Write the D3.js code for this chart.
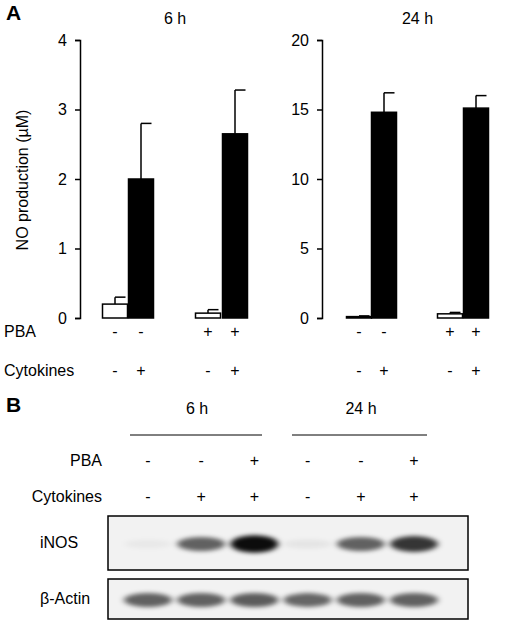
<!DOCTYPE html>
<html><head><meta charset="utf-8">
<script src="https://cdn.jsdelivr.net/npm/d3@7"></script>
<style>body{margin:0;background:#fff}text{font-family:Arial,"Liberation Sans",sans-serif;fill:#000}</style>
</head><body><svg id="c" width="520" height="620"></svg>
<script>
const groups = ["PBA- Cyt-","PBA- Cyt+","PBA+ Cyt-","PBA+ Cyt+"];
const fill6 = ["white","black","white","black"];
const means6h = [0.2, 2.0, 0.07, 2.65];
const err6h = [0.1, 0.8, 0.05, 0.63];
const means24h = [0.1, 14.8, 0.3, 15.1];
const err24h = [0.05, 1.4, 0.1, 0.9];
const ticks6h = [0,1,2,3,4];
const ticks24h = [0,5,10,15,20];
const pbaA = ["-","-","+","+"];
const cytA = ["-","+","-","+"];
const lanesB = ["1","2","3","4","5","6"];
const pbaB = ["-","-","+","-","-","+"];
const cytB = ["-","+","+","-","+","+"];
const inos = [0.04,0.6,0.95,0.06,0.6,0.78];
const actin = [0.6,0.6,0.62,0.58,0.6,0.6];
const FS = 16;
const svg = d3.select("#c");
svg.append("text").attr("x",6).attr("y",20).attr("font-size",21).attr("font-weight","bold").text("A");
svg.append("text").attr("x",6).attr("y",412).attr("font-size",21).attr("font-weight","bold").text("B");

function chart(x0, domMax, ticks, means, errs, title, barX){
  const y = d3.scaleLinear().domain([0,domMax]).range([318,40]);
  const g = svg.append("g");
  g.append("g").attr("transform",`translate(${x0},0)`)
   .call(d3.axisLeft(y).tickValues(ticks).tickSize(5).tickPadding(8).tickFormat(d3.format("d")))
   .call(a=>{a.select(".domain").attr("stroke","#000").attr("stroke-width",1.5);a.selectAll("line").attr("stroke-width",1.5);a.selectAll("text").attr("font-size",FS).attr("font-family","Arial")});
  const x = d3.scaleOrdinal().domain(groups).range(barX);
  const w = 25;
  groups.forEach((k,i)=>{
    const cx = x(k);
    g.append("line").attr("x1",cx).attr("x2",cx).attr("y1",y(means[i])).attr("y2",y(means[i]+errs[i])).attr("stroke","#000").attr("stroke-width",1.5);
    g.append("line").attr("x1",cx).attr("x2",cx+w/2-2).attr("y1",y(means[i]+errs[i])).attr("y2",y(means[i]+errs[i])).attr("stroke","#000").attr("stroke-width",1.5);
    g.append("rect").attr("x",cx-w/2).attr("width",w).attr("y",y(means[i])).attr("height",Math.max(0,y(0)-y(means[i])))
     .attr("fill",fill6[i]).attr("stroke","#000").attr("stroke-width",1.5);
  });
  g.append("text").attr("x",(barX[0]+barX[3])/2).attr("y",24).attr("text-anchor","middle").attr("font-size",FS).text(title);
  groups.forEach((k,i)=>{
    g.append("text").attr("x",x(k)).attr("y",337).attr("text-anchor","middle").attr("font-size",FS).text(pbaA[i]);
    g.append("text").attr("x",x(k)).attr("y",376).attr("text-anchor","middle").attr("font-size",FS).text(cytA[i]);
  });
}
chart(80,4,ticks6h,means6h,err6h,"6 h",[115,141,208,235]);
chart(322,20,ticks24h,means24h,err24h,"24 h",[359,384,450,476]);
svg.append("text").attr("x",28).attr("y",180).attr("transform","rotate(-90,28,180)").attr("text-anchor","middle").attr("font-size",FS).text("NO production (µM)");
svg.append("text").attr("x",4).attr("y",337).attr("font-size",FS).text("PBA");
svg.append("text").attr("x",4).attr("y",376).attr("font-size",FS).text("Cytokines");

svg.append("text").attr("x",197).attr("y",414).attr("text-anchor","middle").attr("font-size",FS).text("6 h");
svg.append("text").attr("x",361).attr("y",414).attr("text-anchor","middle").attr("font-size",FS).text("24 h");
svg.append("line").attr("x1",130).attr("x2",262).attr("y1",435).attr("y2",435).attr("stroke","#000");
svg.append("line").attr("x1",292).attr("x2",427).attr("y1",435).attr("y2",435).attr("stroke","#000");
const xb = d3.scalePoint().domain(lanesB).range([148,414]);
svg.append("text").attr("x",102).attr("y",466).attr("text-anchor","end").attr("font-size",FS).text("PBA");
svg.append("text").attr("x",102).attr("y",502).attr("text-anchor","end").attr("font-size",FS).text("Cytokines");
lanesB.forEach((l,i)=>{
  svg.append("text").attr("x",xb(l)).attr("y",466).attr("text-anchor","middle").attr("font-size",FS).text(pbaB[i]);
  svg.append("text").attr("x",xb(l)).attr("y",502).attr("text-anchor","middle").attr("font-size",FS).text(cytB[i]);
});
const defs = svg.append("defs");
defs.append("filter").attr("id","bl").attr("x","-50%").attr("y","-100%").attr("width","200%").attr("height","300%")
  .append("feGaussianBlur").attr("stdDeviation","3 2");
function blot(y0,h,vals,label){
  svg.append("rect").attr("x",108).attr("y",y0).attr("width",360).attr("height",h).attr("fill","#f2f2f2");
  const gb = svg.append("g").attr("filter","url(#bl)");
  vals.forEach((v,i)=>{
    gb.append("ellipse").attr("cx",xb(lanesB[i])).attr("cy",y0+h/2+1).attr("rx",24).attr("ry",4+5*v)
      .attr("fill","#000").attr("opacity",v);
  });
  svg.append("rect").attr("x",108).attr("y",y0).attr("width",360).attr("height",h).attr("fill","none").attr("stroke","#000").attr("stroke-width",1.5);
  svg.append("text").attr("x",40).attr("y",y0+h/2+5).attr("font-size",FS).text(label);
}
blot(516,54,inos,"iNOS");
blot(579,40,actin,"β-Actin");
</script></body></html>
